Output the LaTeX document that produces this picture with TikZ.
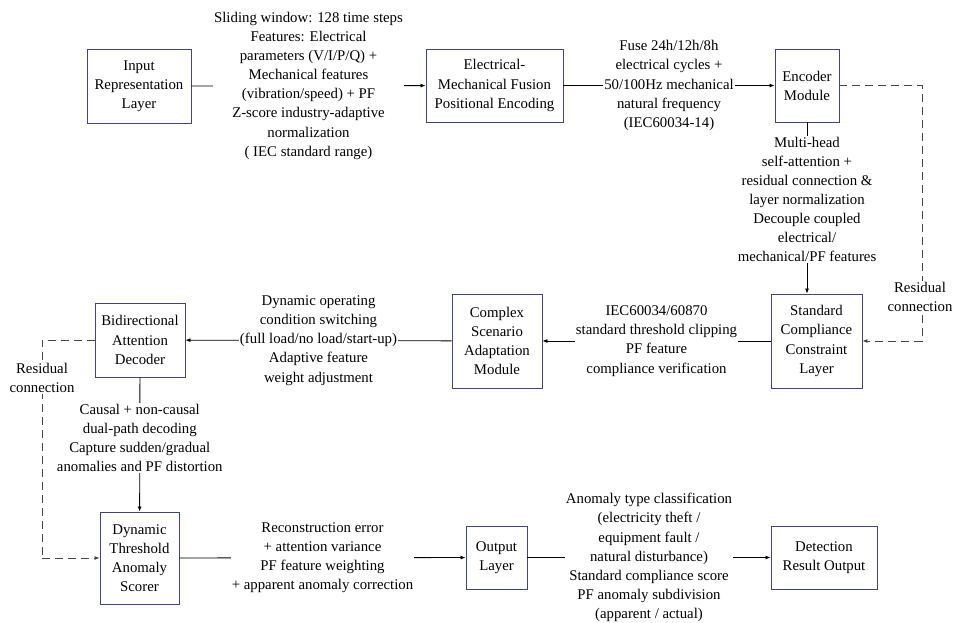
\documentclass[tikz,border=0pt]{standalone}
\usepackage{fontspec}
\setmainfont{LiberationSerif}[Extension=.ttf, UprightFont=*-Regular, BoldFont=*-Bold]
\usetikzlibrary{arrows.meta}
\definecolor{bordbleu}{RGB}{62,72,112}
\definecolor{gristrait}{RGB}{70,70,70}
\tikzset{
  boite/.style={draw=bordbleu, line width=0.9pt, align=center, inner sep=2pt},
  fleche/.style={-{Latex[length=5pt,width=4pt]}, line width=0.8pt},
  pointille/.style={gristrait, line width=0.8pt, dash pattern=on 8pt off 5pt},
  etiquette/.style={fill=white, align=center, inner sep=1pt}
}
\begin{document}
\begin{tikzpicture}[x=1pt,y=-1pt,font=\fontsize{14.8}{19.1}\selectfont]
	\useasboundingbox (0,0) rectangle (954,622);
	%boites
	\node[boite, minimum width=104, minimum height=74] (entree) at (139,86) {Input\\Representation\\Layer};
	\node[boite, minimum width=137, minimum height=73] (fusion) at (494.5,85.5) {Electrical-\\Mechanical Fusion\\Positional Encoding};
	\node[boite, minimum width=64, minimum height=73] (encodeur) at (807,85.5) {Encoder\\Module};
	\node[boite, minimum width=91, minimum height=94] (conforme) at (816.5,341) {Standard\\Compliance\\Constraint\\Layer};
	\node[boite, minimum width=90, minimum height=94] (scenario) at (497,341) {Complex\\Scenario\\Adaptation\\Module};
	\node[boite, minimum width=90, minimum height=74] (decodeur) at (140,340) {Bidirectional\\Attention\\Decoder};
	\node[boite, minimum width=79, minimum height=92] (scoreur) at (139.5,558) {Dynamic\\Threshold\\Anomaly\\Scorer};
	\node[boite, minimum width=61, minimum height=63] (sortie) at (496.5,557.5) {Output\\Layer};
	\node[boite, minimum width=106, minimum height=63] (resultat) at (824,557.5) {Detection\\Result Output};
	%ligne du haut
	\draw[fleche] (entree) -- (fusion) node[midway, etiquette] {Sliding window: 128 time steps\\Features: Electrical\\parameters (V/I/P/Q) +\\Mechanical features\\(vibration/speed) + PF\\Z-score industry-adaptive\\normalization\\( IEC standard range)};
	\draw[fleche] (fusion) -- (encodeur) node[midway, etiquette] {Fuse 24h/12h/8h\\electrical cycles +\\50/100Hz mechanical\\natural frequency\\(IEC60034-14)};
	\draw[fleche] (encodeur.south) -- (encodeur.south |- conforme.north) node[pos=0.45, etiquette] {Multi-head\\self-attention +\\residual connection \&\\layer normalization\\Decouple coupled\\electrical/\\mechanical/PF features};
	%residuel droite
	\coordinate (resD1) at (922,85.5);
	\coordinate (resD2) at (922,341);
	\draw[pointille] (encodeur.east) -- (resD1) -- (resD2);
	\draw[pointille, fleche] (resD2) -- (conforme.east);
	\node[etiquette] (resDtexte) at (920,297) {Residual\\connection};
	%ligne du milieu
	\draw[fleche] (conforme) -- (scenario) node[midway, etiquette] {IEC60034/60870\\standard threshold clipping\\PF feature\\compliance verification};
	\draw[fleche] (scenario) -- (decodeur) node[midway, etiquette] {Dynamic operating\\condition switching\\(full load/no load/start-up)\\Adaptive feature\\weight adjustment};
	\draw[fleche] (decodeur) -- (scoreur) node[pos=0.45, etiquette] {Causal + non-causal\\dual-path decoding\\Capture sudden/gradual\\anomalies and PF distortion};
	%residuel gauche
	\coordinate (resG1) at (42,340);
	\coordinate (resG2) at (42,558);
	\draw[pointille] (decodeur.west) -- (resG1) -- (resG2);
	\draw[pointille, fleche] (resG2) -- (scoreur.west);
	\node[etiquette] (resGtexte) at (42,378) {Residual\\connection};
	%ligne du bas
	\draw[fleche] (scoreur) -- (sortie) node[midway, etiquette] {Reconstruction error\\+ attention variance\\PF feature weighting\\+ apparent anomaly correction};
	\draw[fleche] (sortie) -- (resultat) node[midway, etiquette] {Anomaly type classification\\(electricity theft /\\equipment fault /\\natural disturbance)\\Standard compliance score\\PF anomaly subdivision\\(apparent / actual)};
\end{tikzpicture}
\end{document}
